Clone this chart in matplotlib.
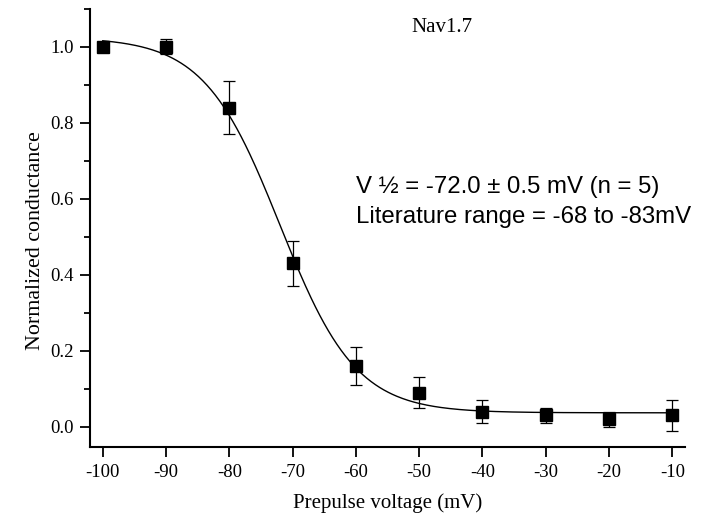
import numpy as np
import matplotlib
matplotlib.use('Agg')
import matplotlib.pyplot as plt
from matplotlib.ticker import MultipleLocator

# data
voltage = [-100, -90, -80, -70, -60, -50, -40, -30, -20, -10]
conductance = [1.00, 1.00, 0.84, 0.43, 0.16, 0.09, 0.04, 0.03, 0.02, 0.03]
error = [0.00, 0.02, 0.07, 0.06, 0.05, 0.04, 0.03, 0.02, 0.02, 0.04]

# Boltzmann fit parameters
a1 = 1.025
a2 = 0.037
v_half = -72.0
slope_k = 6.0

def boltzmann(v):
    return a2 + (a1 - a2) / (1 + np.exp((v - v_half) / slope_k))

serif = 'Liberation Serif'
sans = 'Liberation Sans'

fig = plt.figure(figsize=(7.04, 5.15), dpi=100)
ax = fig.add_axes([0.128, 0.132, 0.845, 0.851])

v_fit = np.linspace(-100, -10, 400)
ax.plot(v_fit, boltzmann(v_fit), color='black', lw=1.0)
ax.errorbar(voltage, conductance, yerr=error, fmt='s', color='black',
            markersize=8, capsize=4.5, elinewidth=0.9, capthick=0.9)

ax.set_xlim(-102, -8)
ax.set_ylim(-0.053, 1.1)
ax.set_xticks(voltage)
ax.yaxis.set_minor_locator(MultipleLocator(0.1))
ax.set_yticks([0.0, 0.2, 0.4, 0.6, 0.8, 1.0])
ax.set_yticklabels(['0.0', '0.2', '0.4', '0.6', '0.8', '1.0'])
ax.set_xticklabels([str(v) for v in voltage])

for s in ['top', 'right']:
    ax.spines[s].set_visible(False)
for s in ['left', 'bottom']:
    ax.spines[s].set_linewidth(1.5)

ax.tick_params(which='major', direction='out', length=7, width=1.3, labelsize=13.5, pad=5)
ax.tick_params(which='minor', direction='out', length=4.5, width=1.3)
for lab in ax.get_xticklabels() + ax.get_yticklabels():
    lab.set_family(serif)

ax.set_xlabel('Prepulse voltage (mV)', fontsize=15, family=serif, labelpad=9)
ax.set_ylabel('Normalized conductance', fontsize=15.8, family=serif)
ax.yaxis.set_label_coords(-0.076, 0.47)

ax.text(-46.4, 1.05, 'Nav1.7', fontsize=15, family=serif, ha='center', va='center')
ax.text(-60, 0.632, 'V \u00bd = -72.0 \u00b1 0.5 mV (n = 5)', fontsize=17.3, family=sans, va='center')
ax.text(-60, 0.553, 'Literature range = -68 to -83mV', fontsize=17.3, family=sans, va='center')

fig.savefig('out.png', dpi=100)
